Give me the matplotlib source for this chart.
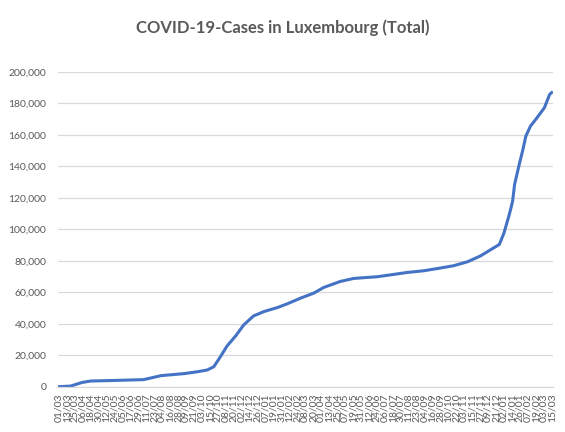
import pandas as pd
import matplotlib.pyplot as plt
import matplotlib.dates as mdates

# Total cases (estimated at the curve's bends)
dates = [
    "2020-03-01", "2020-03-19", "2020-04-05", "2020-04-18", "2020-05-18",
    "2020-05-26", "2020-07-07", "2020-08-02", "2020-08-12", "2020-09-06",
    "2020-09-26", "2020-10-11", "2020-10-21", "2020-10-31", "2020-11-10",
    "2020-11-23", "2020-12-05", "2020-12-20", "2021-01-05", "2021-01-25",
    "2021-02-09", "2021-03-01", "2021-03-21", "2021-04-05", "2021-04-30",
    "2021-05-20", "2021-06-25", "2021-07-15", "2021-08-09", "2021-09-03",
    "2021-09-28", "2021-10-18", "2021-11-08", "2021-11-28", "2021-12-13",
    "2021-12-26", "2022-01-02", "2022-01-10", "2022-01-15", "2022-01-18",
    "2022-01-25", "2022-01-30", "2022-02-04", "2022-02-11", "2022-02-21",
    "2022-03-04", "2022-03-12", "2022-03-15",
]
total_cases = [
    0, 400, 2700, 3600, 3900,
    4000, 4500, 7000, 7400, 8300,
    9500, 10600, 12700, 19100, 25900,
    32300, 39200, 45000, 47800, 50300,
    52700, 56300, 59500, 63100, 66900,
    68800, 69900, 71100, 72600, 73700,
    75400, 76900, 79400, 83200, 87100,
    90400, 97700, 109400, 117800, 128500,
    141200, 149700, 159200, 165600, 171000,
    177300, 185800, 186900,
]

first_day = "2020-03-01"
last_day = "2022-03-15"
tick_step = "12D"

grey = "#595959"
blue = "#4472C4"

plt.rcParams['font.family'] = ['Lato', 'DejaVu Sans']

df = pd.DataFrame({"date": pd.to_datetime(dates), "cases": total_cases})

fig = plt.figure(figsize=(5.65, 4.32), dpi=100)
ax = fig.add_axes([57.5 / 565, 1 - 386.7 / 432, (553 - 57.5) / 565, (386.7 - 72) / 432])

ax.plot(df["date"], df["cases"], color=blue, linewidth=2.2, solid_joinstyle='round')

ax.set_ylim(0, 200000)
ax.set_yticks(range(0, 200001, 20000))
ax.yaxis.set_major_formatter(plt.FuncFormatter(lambda v, p: f"{int(v):,}"))

ticks = pd.date_range(first_day, last_day, freq=tick_step)
ax.set_xlim(pd.Timestamp(first_day) - pd.Timedelta(days=2), pd.Timestamp(last_day) + pd.Timedelta(days=2))
ax.set_xticks(ticks)
ax.xaxis.set_major_formatter(mdates.DateFormatter("%d/%m"))

ax.grid(axis='y', color='#d9d9d9', linewidth=0.9)
ax.set_axisbelow(True)
for side in ['top', 'right', 'left']:
    ax.spines[side].set_visible(False)
ax.spines['bottom'].set_color('#d9d9d9')
ax.spines['bottom'].set_linewidth(0.9)

ax.tick_params(axis='y', length=0, pad=8, labelsize=7.5, labelcolor=grey)
ax.tick_params(axis='x', length=0, pad=5, labelsize=7.5, labelcolor=grey, labelrotation=90)

fig.text(0.5, 1 - 28 / 432, "COVID-19-Cases in Luxembourg (Total)", ha='center', va='center',
         fontsize=12, fontweight='bold', color=grey)

fig.savefig("out.png", dpi=100, facecolor='white')
